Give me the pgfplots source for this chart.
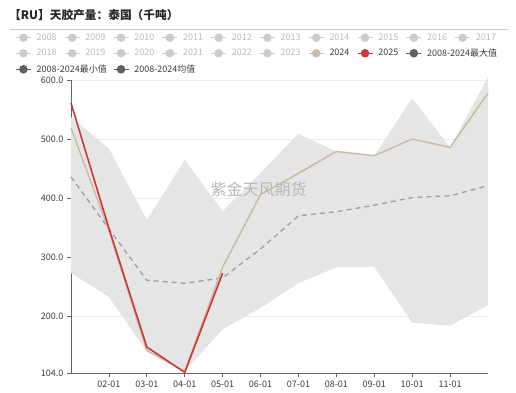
\documentclass[border=0pt]{standalone}
\usepackage{fontspec}
\setmainfont{Noto Sans CJK SC}
\usepackage{pgfplots}
\pgfplotsset{compat=1.18}
\definecolor{cband}{RGB}{229,229,229}
\definecolor{c24}{RGB}{200,186,164}
\definecolor{c25}{RGB}{205,55,55}
\definecolor{cmean}{RGB}{160,160,160}
\definecolor{cin}{RGB}{204,204,204}
\definecolor{cintext}{RGB}{185,185,185}
\definecolor{cdark}{RGB}{95,95,95}
\definecolor{caxis}{RGB}{100,100,100}
\definecolor{cgrid}{RGB}{236,236,236}
\definecolor{ctext}{RGB}{60,60,60}
\newcommand{\LE}[1]{\makebox[27.3pt][l]{#1}}
\begin{document}
\begin{tikzpicture}
\path[use as bounding box] (0,0) rectangle (516pt,392pt);
\begin{axis}[
  at={(71pt,19pt)}, anchor=south west,
  scale only axis, width=417pt, height=293pt,
  xmin=0, xmax=11, ymin=104, ymax=600,
  axis x line=bottom, axis y line=left,
  axis line style={-, caxis, line width=0.8pt},
  xtick={1,...,10},
  xticklabels={02-01,03-01,04-01,05-01,06-01,07-01,08-01,09-01,10-01,11-01},
  ytick={104,200,300,400,500,600},
  yticklabel style={/pgf/number format/.cd, fixed, fixed zerofill, precision=1, assume math mode=true},
  ymajorgrids, grid style={cgrid, line width=0.8pt},
  tick style={caxis, line width=0.8pt},
  major tick length=4pt, tick align=outside,
  ticklabel style={font=\fontsize{9}{10}\selectfont, text=ctext},
  clip=false,
  title={【RU】天胶产量：泰国（千吨）},
  title style={at={(-0.1487,1.200)}, anchor=west, inner sep=0pt, font=\bfseries\fontsize{11.7}{13}\selectfont, text=black!85},
  extra description/.code={\draw[cin, line width=0.8pt] (-0.146,1.174) -- (1.048,1.174);},
  legend columns=10,
  legend cell align=left,
  legend style={at={(-0.1343,1.1587)}, anchor=north west, draw=none, fill=none, inner sep=0pt,
    font=\fontsize{9}{10}\selectfont, row sep=7pt, nodes={inner sep=0pt},
    /tikz/every odd column/.append style={column sep=5pt}},
  legend image code/.code={\draw[mark repeat=2,mark phase=2,#1] plot coordinates {(0pt,0pt) (7.5pt,0pt) (15pt,0pt)};},
]
% band: max forward, min backward
\addplot[fill=cband, draw=none, forget plot] coordinates {(0,537) (1,484) (2,363) (3,465) (4,378) (5,443) (6,509) (7,479) (8,472) (9,569) (10,486) (11,605)
  (11,219) (10,184) (9,189) (8,284) (7,283) (6,256) (5,214) (4,178) (3,107) (2,140) (1,233) (0,273)} -- cycle;
\node[text=black!28, font=\fontsize{16}{16}\selectfont] at (axis cs:4.95,414) {紫金天风期货};
\addplot[cmean, line width=1.3pt, dash pattern=on 5pt off 4pt, forget plot] coordinates {(0,436) (1,348) (2,261) (3,256) (4,265) (5,314) (6,370) (7,377) (8,388) (9,401) (10,404) (11,421)};
\addplot[c24, line width=1.4pt, forget plot] coordinates {(0,519) (1,345) (2,142) (3,107) (4,283) (5,406) (6,442) (7,479) (8,472) (9,500) (10,486) (11,578)};
\addplot[c25, line width=1.6pt, forget plot] coordinates {(0,561) (1,349) (2,148) (3,105) (4,273)};
% legend
\addlegendimage{cin, mark=*, mark size=3.5pt, line width=1.5pt}\addlegendentry{\textcolor{cintext}{\LE{2008}}}
\addlegendimage{cin, mark=*, mark size=3.5pt, line width=1.5pt}\addlegendentry{\textcolor{cintext}{\LE{2009}}}
\addlegendimage{cin, mark=*, mark size=3.5pt, line width=1.5pt}\addlegendentry{\textcolor{cintext}{\LE{2010}}}
\addlegendimage{cin, mark=*, mark size=3.5pt, line width=1.5pt}\addlegendentry{\textcolor{cintext}{\LE{2011}}}
\addlegendimage{cin, mark=*, mark size=3.5pt, line width=1.5pt}\addlegendentry{\textcolor{cintext}{\LE{2012}}}
\addlegendimage{cin, mark=*, mark size=3.5pt, line width=1.5pt}\addlegendentry{\textcolor{cintext}{\LE{2013}}}
\addlegendimage{cin, mark=*, mark size=3.5pt, line width=1.5pt}\addlegendentry{\textcolor{cintext}{\LE{2014}}}
\addlegendimage{cin, mark=*, mark size=3.5pt, line width=1.5pt}\addlegendentry{\textcolor{cintext}{\LE{2015}}}
\addlegendimage{cin, mark=*, mark size=3.5pt, line width=1.5pt}\addlegendentry{\textcolor{cintext}{\LE{2016}}}
\addlegendimage{cin, mark=*, mark size=3.5pt, line width=1.5pt}\addlegendentry{\textcolor{cintext}{\LE{2017}}}
\addlegendimage{cin, mark=*, mark size=3.5pt, line width=1.5pt}\addlegendentry{\textcolor{cintext}{\LE{2018}}}
\addlegendimage{cin, mark=*, mark size=3.5pt, line width=1.5pt}\addlegendentry{\textcolor{cintext}{\LE{2019}}}
\addlegendimage{cin, mark=*, mark size=3.5pt, line width=1.5pt}\addlegendentry{\textcolor{cintext}{\LE{2020}}}
\addlegendimage{cin, mark=*, mark size=3.5pt, line width=1.5pt}\addlegendentry{\textcolor{cintext}{\LE{2021}}}
\addlegendimage{cin, mark=*, mark size=3.5pt, line width=1.5pt}\addlegendentry{\textcolor{cintext}{\LE{2022}}}
\addlegendimage{cin, mark=*, mark size=3.5pt, line width=1.5pt}\addlegendentry{\textcolor{cintext}{\LE{2023}}}
\addlegendimage{c24, mark=*, mark size=3.5pt, line width=1.5pt}\addlegendentry{\textcolor{ctext}{\LE{2024}}}
\addlegendimage{c25, mark=*, mark size=3.5pt, line width=1.5pt}\addlegendentry{\textcolor{ctext}{\LE{2025}}}
\addlegendimage{cdark, mark=*, mark size=3.5pt, line width=1.5pt}\addlegendentry{\textcolor{ctext}{\LE{2008-2024最大值}}}
\addlegendimage{empty legend}\addlegendentry{}
\addlegendimage{cdark, mark=*, mark size=3.5pt, line width=1.5pt}\addlegendentry{\textcolor{ctext}{\LE{2008-2024最小值}}}
\addlegendimage{empty legend}\addlegendentry{}
\addlegendimage{cdark, mark=*, mark size=3.5pt, line width=1.5pt}\addlegendentry{\textcolor{ctext}{\LE{2008-2024均值}}}
\end{axis}
\end{tikzpicture}
\end{document}
